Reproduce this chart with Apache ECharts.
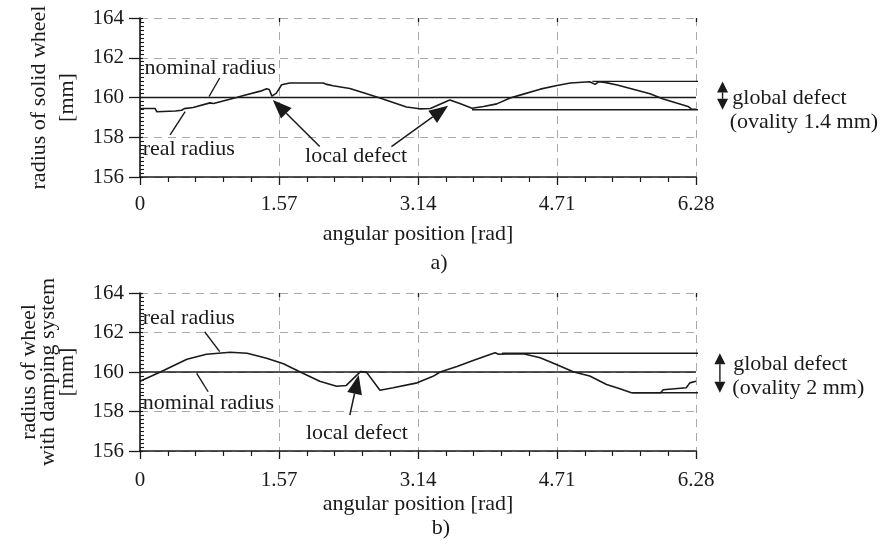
<!DOCTYPE html>
<html><head><meta charset="utf-8">
<script src="https://cdn.jsdelivr.net/npm/echarts@6/dist/echarts.min.js"></script>
<style>html,body{margin:0;padding:0;background:#fff;}#c{width:885px;height:549px;}</style>
</head><body><div id="c"></div>
<script>
// ---------- data ----------
const xTickValues = [0, 1.57, 3.14, 4.71, 6.28];
const xTickLabels = ['0', '1.57', '3.14', '4.71', '6.28'];
const yTickValues = [156, 158, 160, 162, 164];
const nominalRadius = 160;

// a) solid wheel
const solidAngle = [0, 0.17, 0.19, 0.40, 0.47, 0.50, 0.60, 0.79, 0.83, 1.09, 1.17, 1.36, 1.43, 1.46, 1.49, 1.51, 1.54, 1.60, 1.69, 2.07, 2.11, 2.18, 2.37, 2.56, 2.71, 2.86, 3.01, 3.16, 3.28, 3.35, 3.46, 3.50, 3.62, 3.75, 3.88, 4.03, 4.18, 4.33, 4.52, 4.71, 4.86, 5.08, 5.14, 5.18, 5.25, 5.39, 5.57, 5.76, 5.91, 6.06, 6.19, 6.23, 6.28];
const solidRadius = [159.45, 159.45, 159.28, 159.32, 159.36, 159.44, 159.50, 159.73, 159.70, 160.00, 160.10, 160.32, 160.44, 160.40, 160.07, 159.98, 160.22, 160.64, 160.73, 160.73, 160.66, 160.59, 160.45, 160.19, 159.97, 159.75, 159.52, 159.43, 159.45, 159.58, 159.80, 159.88, 159.68, 159.46, 159.55, 159.68, 159.97, 160.17, 160.42, 160.60, 160.73, 160.79, 160.66, 160.79, 160.76, 160.63, 160.42, 160.19, 159.92, 159.72, 159.55, 159.41, 159.41];
const solidMax = 160.81, solidMin = 159.38;

// b) wheel with damping system
const dampAngle = [0, 0.23, 0.53, 0.75, 1.02, 1.21, 1.43, 1.62, 1.81, 2.03, 2.22, 2.33, 2.49, 2.56, 2.71, 2.86, 3.13, 3.31, 3.39, 3.58, 3.77, 4.01, 4.05, 4.14, 4.33, 4.52, 4.71, 4.90, 5.08, 5.27, 5.42, 5.55, 5.72, 5.88, 5.91, 6.17, 6.21, 6.28];
const dampRadius = [159.53, 160.00, 160.65, 160.90, 161.00, 160.95, 160.70, 160.42, 160.00, 159.53, 159.28, 159.32, 160.02, 159.98, 159.08, 159.20, 159.45, 159.78, 160.00, 160.28, 160.60, 160.97, 160.90, 160.92, 160.92, 160.72, 160.37, 160.00, 159.80, 159.37, 159.15, 158.95, 158.95, 158.95, 159.10, 159.20, 159.45, 159.53];
const dampMax = 160.95, dampMin = 158.95;

// ---------- annotations (data coordinates) ----------
const annTop = {
  texts: [
    {t: 'nominal radius', at: [0.05, 161.45], align: 'left'},
    {t: 'real radius', at: [0.03, 157.4], align: 'left'},
    {t: 'local defect', at: [2.44, 157.05], align: 'center'},
    {t: 'global defect', at: [6.69, 159.98], align: 'left'},
    {t: '(ovality 1.4 mm)', at: [6.66, 158.77], align: 'left'}
  ],
  leaders: [[[0.90, 160.98], [0.78, 160.05]], [[0.34, 158.12], [0.51, 159.29]]],
  arrows: [[[2.03, 157.53], [1.50, 159.88]], [[2.84, 157.53], [3.48, 159.58]]],
  globalX: 6.58, upperFrom: 5.11, lowerFrom: 3.75, hi: solidMax, lo: solidMin
};
const annBot = {
  texts: [
    {t: 'real radius', at: [0.03, 162.7], align: 'left'},
    {t: 'nominal radius', at: [0.03, 158.42], align: 'left'},
    {t: 'local defect', at: [2.45, 156.91], align: 'center'},
    {t: 'global defect', at: [6.70, 160.4], align: 'left'},
    {t: '(ovality 2 mm)', at: [6.69, 159.19], align: 'left'}
  ],
  leaders: [[[0.73, 162.04], [0.90, 161.03]], [[0.64, 159.93], [0.77, 159.0]]],
  arrows: [[[2.37, 157.82], [2.47, 159.85]]],
  globalX: 6.55, upperFrom: 4.09, lowerFrom: 5.56, hi: dampMax, lo: dampMin
};

// ---------- chart ----------
const FONT = '"Liberation Serif", "Times New Roman", serif';
const INK = '#1a1a1a';
const TXT = 22;
const chart = echarts.init(document.getElementById('c'), null, {renderer: 'canvas'});

function pairs(xs, ys) { return xs.map((x, i) => [x, ys[i]]); }
function xLabel(v) {
  const i = xTickValues.findIndex(t => Math.abs(t - v) < 1e-6);
  return i >= 0 ? xTickLabels[i] : '';
}
function yLabel(v) {
  const i = yTickValues.findIndex(t => Math.abs(t - v) < 1e-6);
  return i >= 0 ? String(yTickValues[i]) : '';
}

function axesFor(g, xLabelMargin, xNameGap, yName, yNameGap, yLineHeight) {
  const xs = [
    {gridIndex: g, type: 'value', min: xTickValues[0], max: xTickValues[4], interval: 1.57,
     axisLine: {show: true, onZero: false, lineStyle: {color: INK, width: 1.6}},
     axisTick: {show: true, length: 8, lineStyle: {color: INK, width: 1.3}},
     minorTick: {show: true, splitNumber: 5, length: 5, lineStyle: {color: INK, width: 1.2}},
     axisLabel: {margin: xLabelMargin, fontSize: 21, fontFamily: FONT, color: INK, formatter: xLabel},
     splitLine: {show: true, lineStyle: {color: '#a8a8a8', width: 1, type: [8, 6]}},
     name: 'angular position [rad]', nameLocation: 'middle', nameGap: xNameGap,
     nameTextStyle: {fontSize: TXT, fontFamily: FONT, color: INK}},
    {gridIndex: g, type: 'value', min: xTickValues[0], max: xTickValues[4], interval: 1.57,
     axisLine: {show: false, onZero: false}, axisTick: {show: true, inside: true, length: 4, lineStyle: {color: INK, width: 1.3}},
     axisLabel: {show: false}, splitLine: {show: false}}
  ];
  const ys = [
    {gridIndex: g, type: 'value', position: 'left', min: yTickValues[0], max: yTickValues[4], interval: 2,
     axisLine: {show: true, onZero: false, lineStyle: {color: INK, width: 1.6}},
     axisTick: {show: true, length: 11, lineStyle: {color: INK, width: 1.3}},
     axisLabel: {margin: 16, fontSize: 21, fontFamily: FONT, color: INK, formatter: yLabel},
     splitLine: {show: true, lineStyle: {color: '#a8a8a8', width: 1, type: [8, 6]}},
     name: yName, nameLocation: 'middle', nameGap: yNameGap,
     nameTextStyle: {fontSize: TXT, fontFamily: FONT, color: INK, lineHeight: yLineHeight, align: 'center'}},
    {gridIndex: g, type: 'value', position: 'left', min: yTickValues[0], max: yTickValues[4], interval: 2,
     axisLine: {show: false, onZero: false},
     axisTick: {show: true, inside: true, length: 3, lineStyle: {color: INK, width: 1.2}},
     minorTick: {show: true, splitNumber: 10, length: 4, lineStyle: {color: INK, width: 1.1}},
     axisLabel: {show: false}, splitLine: {show: false}}
  ];
  return {xs, ys};
}

const a0 = axesFor(0, 17, 46, 'radius of solid wheel\n[mm]', 57, 28);
const a1 = axesFor(1, 19, 42, 'radius of wheel\nwith damping system\n[mm]', 63, 19);

function lineSeries(xi, yi, data, width, clip) {
  return {type: 'line', xAxisIndex: xi, yAxisIndex: yi, data: data, symbol: 'none',
          clip: clip, silent: true, animation: false,
          lineStyle: {color: INK, width: width}};
}

const series = [
  lineSeries(0, 0, pairs(solidAngle, solidRadius), 1.6, true),
  lineSeries(0, 0, [[xTickValues[0], nominalRadius], [xTickValues[4], nominalRadius]], 1.6, true),
  lineSeries(0, 0, [[annTop.upperFrom, annTop.hi], [annTop.globalX, annTop.hi]], 1.4, false),
  lineSeries(0, 0, [[annTop.lowerFrom, annTop.lo], [annTop.globalX, annTop.lo]], 1.4, false),
  lineSeries(2, 2, pairs(dampAngle, dampRadius), 1.6, true),
  lineSeries(2, 2, [[xTickValues[0], nominalRadius], [xTickValues[4], nominalRadius]], 1.6, true),
  lineSeries(2, 2, [[annBot.upperFrom, annBot.hi], [annBot.globalX, annBot.hi]], 1.4, false),
  lineSeries(2, 2, [[annBot.lowerFrom, annBot.lo], [annBot.globalX, annBot.lo]], 1.4, false)
];

chart.setOption({
  animation: false,
  backgroundColor: '#fff',
  grid: [
    {left: 140, top: 18, width: 556, height: 159, containLabel: false, outerBoundsMode: 'none'},
    {left: 140, top: 293, width: 556, height: 158, containLabel: false, outerBoundsMode: 'none'}
  ],
  xAxis: a0.xs.concat(a1.xs),
  yAxis: a0.ys.concat(a1.ys),
  series: series
});

// ---------- annotation graphics ----------
function head(tip, tail, len, w) {
  const dx = tip[0] - tail[0], dy = tip[1] - tail[1];
  const d = Math.hypot(dx, dy), ux = dx / d, uy = dy / d;
  const bx = tip[0] - ux * len, by = tip[1] - uy * len;
  return {pts: [[tip[0], tip[1]], [bx - uy * w / 2, by + ux * w / 2], [bx + uy * w / 2, by - ux * w / 2]], base: [bx, by]};
}
function build(ann, seriesIndex) {
  const P = v => chart.convertToPixel({seriesIndex: seriesIndex}, v);
  const out = [];
  ann.texts.forEach(o => {
    const p = P(o.at);
    out.push({type: 'text', z: 100, x: p[0], y: p[1], silent: true,
      style: {text: o.t, fontSize: TXT, fontFamily: FONT, fill: INK, align: o.align, verticalAlign: 'middle'}});
  });
  ann.leaders.forEach(l => {
    const p1 = P(l[0]), p2 = P(l[1]);
    out.push({type: 'line', z: 100, silent: true, shape: {x1: p1[0], y1: p1[1], x2: p2[0], y2: p2[1]},
      style: {stroke: INK, lineWidth: 1.4}});
  });
  ann.arrows.forEach(a => {
    const tail = P(a[0]), tip = P(a[1]);
    const h = head(tip, tail, 19, 15);
    out.push({type: 'line', z: 100, silent: true, shape: {x1: tail[0], y1: tail[1], x2: h.base[0], y2: h.base[1]},
      style: {stroke: INK, lineWidth: 1.5}});
    out.push({type: 'polygon', z: 100, silent: true, shape: {points: h.pts}, style: {fill: INK}});
  });
  const up = P([ann.globalX, ann.hi]), lo = P([ann.globalX, ann.lo]);
  const h1 = head(up, lo, 11, 11), h2 = head(lo, up, 11, 11);
  out.push({type: 'line', z: 100, silent: true, shape: {x1: h1.base[0], y1: h1.base[1], x2: h2.base[0], y2: h2.base[1]},
    style: {stroke: INK, lineWidth: 1.4}});
  out.push({type: 'polygon', z: 100, silent: true, shape: {points: h1.pts}, style: {fill: INK}});
  out.push({type: 'polygon', z: 100, silent: true, shape: {points: h2.pts}, style: {fill: INK}});
  return out;
}
const gfx = build(annTop, 0).concat(build(annBot, 4));
gfx.push({type: 'text', z: 100, x: 439, y: 263, silent: true,
  style: {text: 'a)', fontSize: TXT, fontFamily: FONT, fill: INK, align: 'center', verticalAlign: 'middle'}});
gfx.push({type: 'text', z: 100, x: 441, y: 528, silent: true,
  style: {text: 'b)', fontSize: TXT, fontFamily: FONT, fill: INK, align: 'center', verticalAlign: 'middle'}});
chart.setOption({graphic: {elements: gfx}});
</script>
</body></html>
